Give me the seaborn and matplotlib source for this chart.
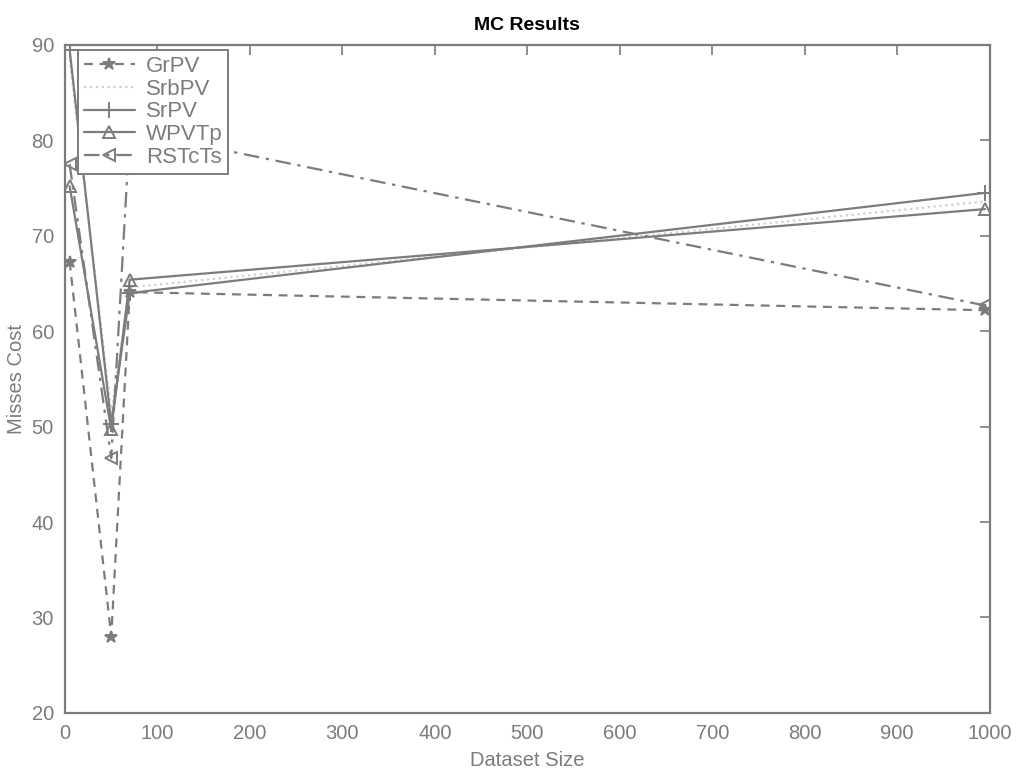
import matplotlib
matplotlib.use("Agg")
import matplotlib.pyplot as plt
import seaborn as sns
import pandas as pd

# Dataset sizes tested and the resulting misses cost for each method
dataset_size = [5, 50, 70, 995]
grpv = [67.3, 28.0, 64.1, 62.2]
srbpv = [88.5, 51.5, 64.6, 73.6]
srpv = [89.5, 50.3, 64.0, 74.5]
wpvtp = [75.2, 49.7, 65.4, 72.8]
rstcts = [77.5, 46.7, 81.0, 62.7]

series_names = ["GrPV", "SrbPV", "SrPV", "WPVTp", "RSTcTs"]
series_values = [grpv, srbpv, srpv, wpvtp, rstcts]

x_ticks = [0, 100, 200, 300, 400, 500, 600, 700, 800, 900, 1000]
y_ticks = [20, 30, 40, 50, 60, 70, 80, 90]

sns.set_theme(style="white")
plt.rcParams["font.family"] = ["Liberation Sans", "DejaVu Sans"]

grey = "#7c7c7c"
styles = {
    "GrPV": dict(color=grey, linestyle=(0, (4, 3)), marker="*", markersize=9),
    "SrbPV": dict(color="#cfcfcf", linestyle=":", marker="", markersize=6),
    "SrPV": dict(color=grey, linestyle="-", marker="+", markersize=11),
    "WPVTp": dict(color=grey, linestyle="-", marker="^", markersize=9,
                  markerfacecolor="none"),
    "RSTcTs": dict(color=grey, linestyle=(0, (7, 3, 1.5, 3)), marker="<",
                   markersize=9, markerfacecolor="none"),
}

fig = plt.figure(figsize=(10.16, 7.69), dpi=100)
ax = fig.add_axes([0.064, 0.073, 0.91, 0.8685])

for name, vals in zip(series_names, series_values):
    df = pd.DataFrame({"size": dataset_size, "cost": vals})
    st = styles[name]
    sns.lineplot(data=df, x="size", y="cost", ax=ax, label=name,
                 color=st["color"], linestyle=st["linestyle"],
                 marker=st["marker"], markersize=st["markersize"],
                 markerfacecolor=st.get("markerfacecolor", st["color"]),
                 markeredgecolor=st["color"], markeredgewidth=1.4,
                 linewidth=1.6, estimator=None, sort=False)

ax.set_xlim(0, 1000)
ax.set_ylim(20, 90)
ax.set_xticks(x_ticks)
ax.set_yticks(y_ticks)
ax.tick_params(direction="in", length=7, width=1.2, colors=grey,
               labelsize=14.5, top=True, right=True, pad=8)
for side in ax.spines.values():
    side.set_color(grey)
    side.set_linewidth(1.6)

ax.set_title("MC Results", fontsize=14, fontweight="bold", color="black", pad=11)
ax.set_xlabel("Dataset Size", fontsize=14.5, color=grey, labelpad=6)
ax.set_ylabel("Misses Cost", fontsize=14.5, color=grey, labelpad=4)

leg = ax.legend(loc="upper left", bbox_to_anchor=(0.014, 0.992), fontsize=16,
                frameon=True, fancybox=False, framealpha=1.0, handlelength=2.3,
                borderpad=0.25, labelspacing=0.08, handletextpad=0.5,
                borderaxespad=0.0)
leg.get_frame().set_edgecolor(grey)
leg.get_frame().set_facecolor("white")
leg.get_frame().set_linewidth(1.4)
for t in leg.get_texts():
    t.set_color(grey)

fig.savefig("out.png", dpi=100)
